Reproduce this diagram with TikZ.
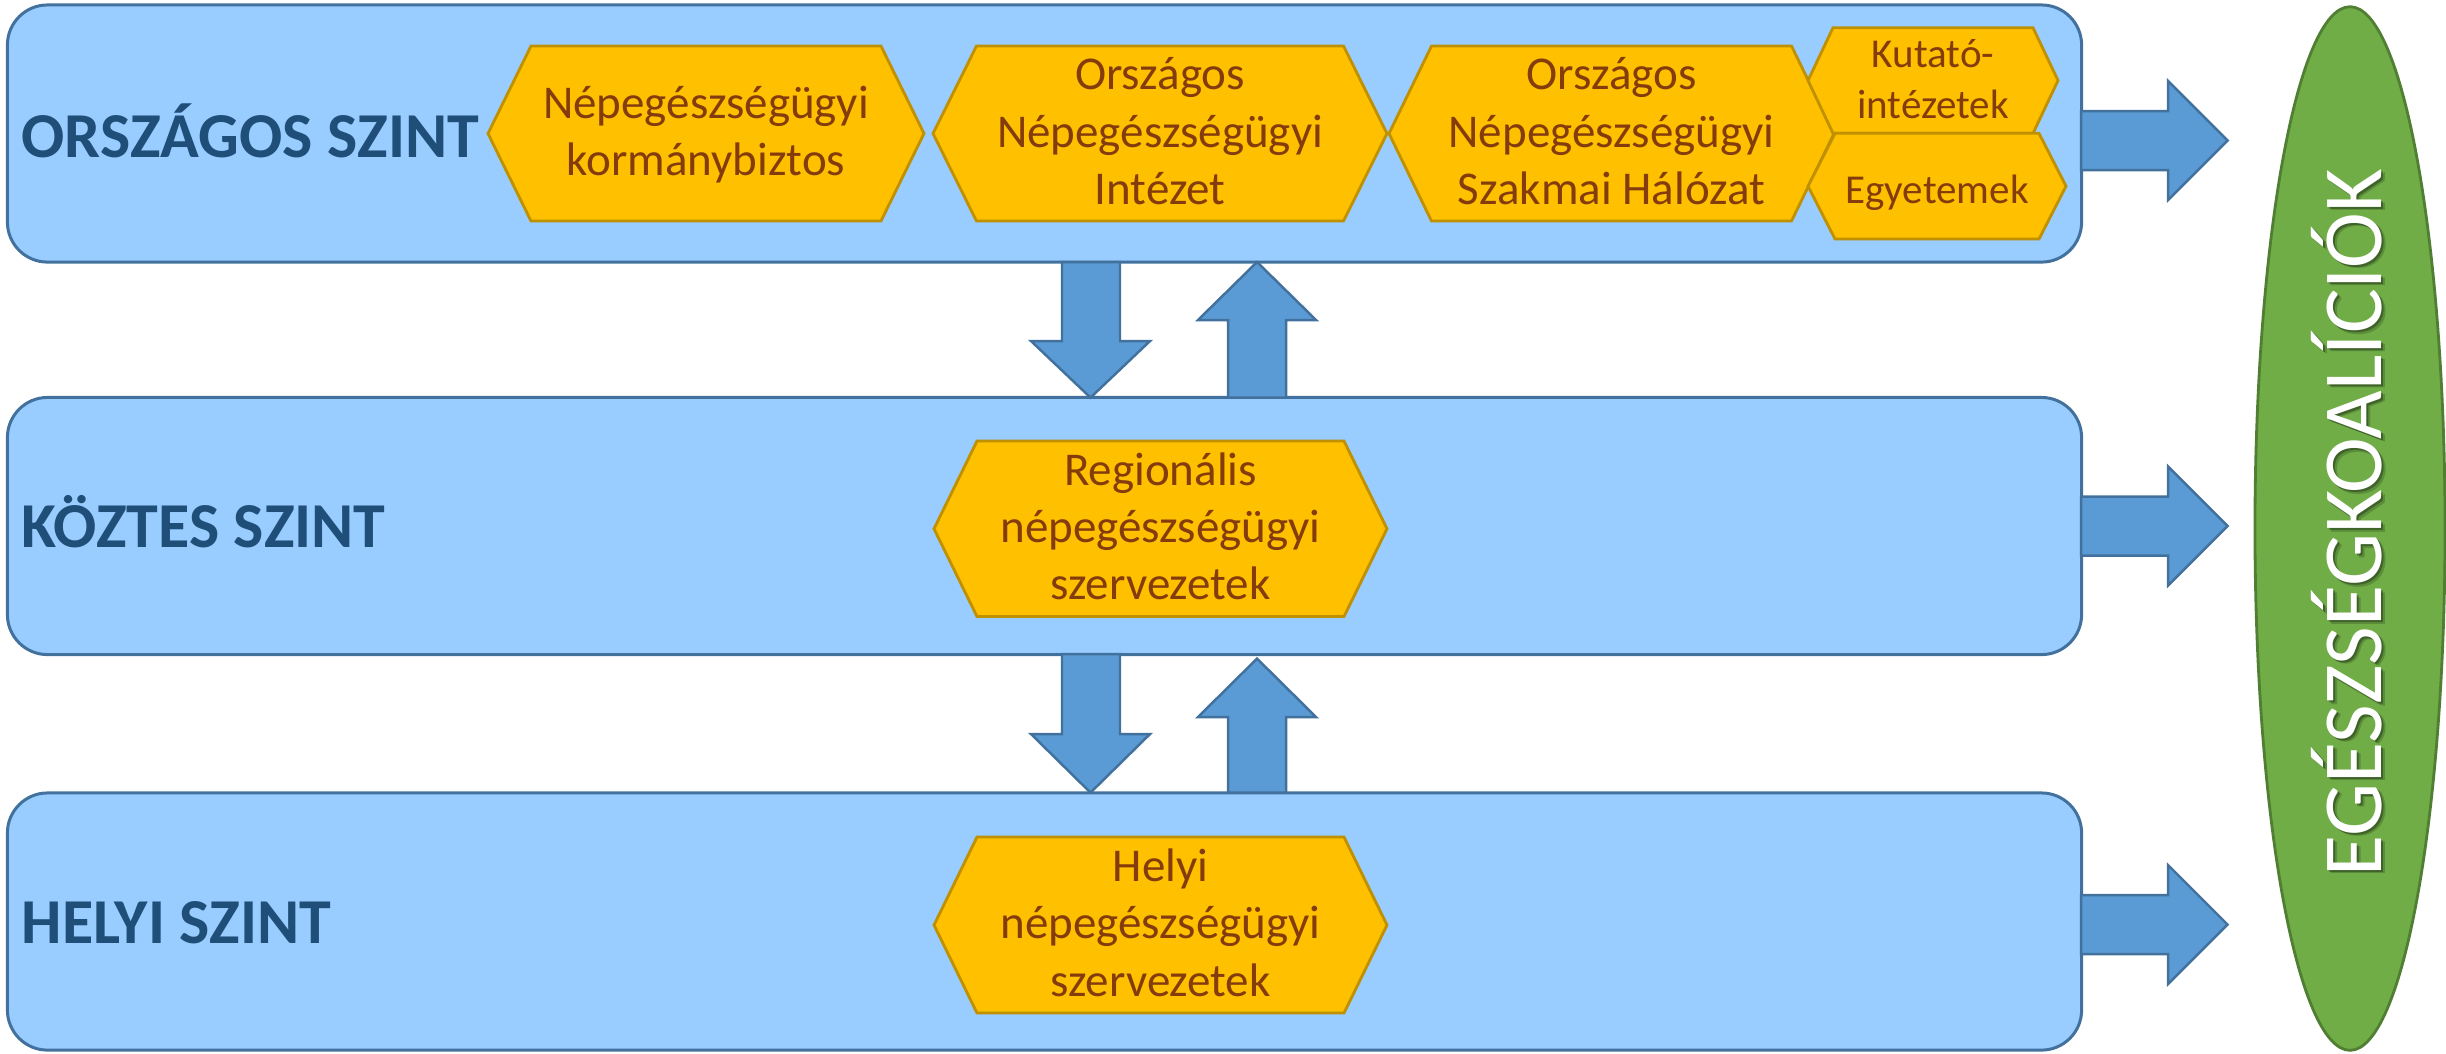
\documentclass[tikz,border=0pt]{standalone}
\usepackage{fontspec}
\setmainfont{Carlito}
\usetikzlibrary{shapes.geometric}

\definecolor{bandfill}{HTML}{99CCFF}
\definecolor{bandline}{HTML}{41719C}
\definecolor{hexfill}{HTML}{FFC000}
\definecolor{hexline}{HTML}{BF9000}
\definecolor{hextext}{HTML}{843C0C}
\definecolor{labeltext}{HTML}{1F4E79}
\definecolor{arrowfill}{HTML}{5B9BD5}
\definecolor{arrowline}{HTML}{41719C}
\definecolor{coalfill}{HTML}{70AD47}
\definecolor{coalline}{HTML}{507E32}

% invisible strut that centres a block of lines on its cap height
\newcommand\hexstrut{\vrule height 0.764\baselineskip depth 0.236\baselineskip width 0pt}

% #1 name, #2 left tip x, #3 right tip x, #4 inset, #5 top y, #6 bottom y, #7 text style, #8 text
\newcommand\hexbox[8]{%
  \draw[hexshape] (#2,{(#5+#6)/2}) -- (#2+#4,#5) -- (#3-#4,#5) -- (#3,{(#5+#6)/2})
    -- (#3-#4,#6) -- (#2+#4,#6) -- cycle;
  \node[#7] (#1) at ({(#2+#3)/2},{(#5+#6)/2}) {#8};}

\tikzset{
  band/.style={draw=bandline, fill=bandfill, line width=0.85pt, rounded corners=11.4pt,
    minimum width=20.73cm, minimum height=2.57cm, inner sep=0pt},
  bandlabel/.style={text=labeltext, inner sep=0pt, anchor=base west,
    font=\fontsize{18.2pt}{22pt}\selectfont\bfseries},
  hexshape/.style={draw=hexline, fill=hexfill, line width=0.8pt, line join=miter},
  hextxt/.style={text=hextext, align=center, inner sep=0pt, yshift=-1.2pt,
    font=\fontsize{13.37pt}{16.33pt}\selectfont,
    execute at begin node=\hexstrut, execute at end node=\hexstrut},
  smalltxt/.style={hextxt, font=\fontsize{11.67pt}{14.51pt}\selectfont},
  blockarrow/.style={draw=arrowline, fill=arrowfill, line width=0.7pt, line join=miter},
  coalition/.style={ellipse, draw=coalline, fill=coalfill, line width=0.8pt,
    minimum width=1.9cm, minimum height=10.43cm, inner sep=0pt},
  coaltxt/.style={rotate=90, anchor=base, inner sep=0pt,
    font=\fontsize{23.9pt}{28pt}\selectfont},
}

\begin{document}
\begin{tikzpicture}[x=0.01cm, y=-0.01cm]
\useasboundingbox (0,0) rectangle (2446,1053);

% the three levels
\node[band] (national) at (1044.5,133.5) {};
\node[band] (middle)   at (1044.5,526)   {};
\node[band] (local)    at (1044.5,921.5) {};

\node[bandlabel] (lblNational) at (21,157)   {ORSZÁGOS SZINT};
\node[bandlabel] (lblMiddle)   at (21,547.5) {KÖZTES SZINT};
\node[bandlabel] (lblLocal)    at (21,943)   {HELYI SZINT};

% national level bodies
\hexbox{commissioner}{488}{924}{43}{46}{221}{hextxt}{Népegészségügyi\\kormánybiztos}
\hexbox{institute}{933}{1387}{43.5}{46}{221}{hextxt}{Országos\\Népegészségügyi\\Intézet}
\hexbox{network}{1389}{1834}{42.5}{46}{221}{hextxt}{Országos\\Népegészségügyi\\Szakmai Hálózat}
\hexbox{research}{1808}{2058}{25}{27.7}{133.3}{smalltxt}{Kutató-\\intézetek}
\hexbox{universities}{1808}{2066}{27}{133.3}{239}{smalltxt}{Egyetemek}

% regional and local bodies
\hexbox{regional}{934}{1387}{43}{441}{616.5}{hextxt}{Regionális\\népegészségügyi\\szervezetek}
\hexbox{localorg}{934}{1387}{43}{837}{1013}{hextxt}{Helyi\\népegészségügyi\\szervezetek}

% downward and upward flows between levels
\draw[blockarrow] (1062,262) -- (1120,262) -- (1120,341) -- (1150,341) -- (1090.5,397.6)
  -- (1031,341) -- (1062,341) -- cycle;
\draw[blockarrow] (1228,397.6) -- (1228,320) -- (1198,320) -- (1257,262) -- (1316,320)
  -- (1286,320) -- (1286,397.6) -- cycle;
\draw[blockarrow] (1062,654) -- (1120,654) -- (1120,734) -- (1150,734) -- (1090.5,792.6)
  -- (1031,734) -- (1062,734) -- cycle;
\draw[blockarrow] (1228,792.6) -- (1228,717) -- (1198,717) -- (1257,658.6) -- (1316,717)
  -- (1286,717) -- (1286,792.6) -- cycle;

% flows towards the coalitions
\foreach \cy in {140.5,526,924.5}{
  \draw[blockarrow] (2081,\cy-29.5) -- (2168,\cy-29.5) -- (2168,\cy-59.5) -- (2227.5,\cy)
    -- (2168,\cy+59.5) -- (2168,\cy+29.5) -- (2081,\cy+29.5) -- cycle;
}

% coalitions
\node[coalition] (coalition) at (2350,528.5) {};
\node[coaltxt, text=black, opacity=0.18] (coalShadowA) at (2385,526) {EGÉSZSÉGKOALÍCIÓK};
\node[coaltxt, text=black, opacity=0.3] (coalShadowB) at (2383.5,524.5) {EGÉSZSÉGKOALÍCIÓK};
\node[coaltxt, text=white] (coalText) at (2381,522.5) {EGÉSZSÉGKOALÍCIÓK};
\end{tikzpicture}
\end{document}
